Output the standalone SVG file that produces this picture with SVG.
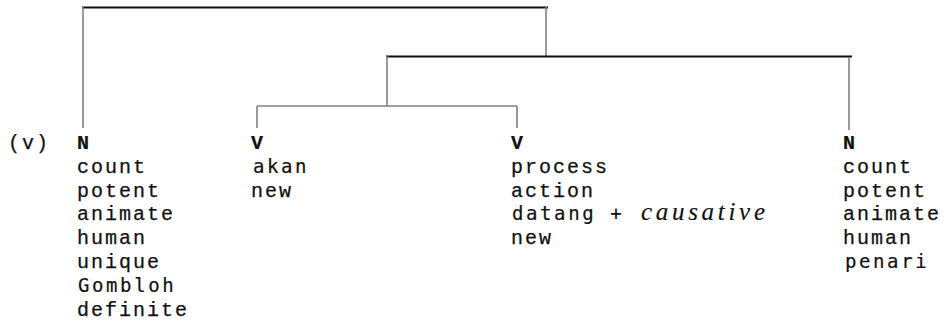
<svg xmlns="http://www.w3.org/2000/svg" width="949" height="322" viewBox="0 0 949 322">
<style>
.t{font-family:"Liberation Mono","Courier New",monospace;font-size:20px;letter-spacing:2px;fill:#111;stroke:#111;stroke-width:0.25}
.b{font-weight:bold;stroke-width:0.2}
.s{font-family:"DejaVu Sans Mono","Liberation Mono",monospace;font-size:19px;letter-spacing:2.6px;fill:#111;stroke:#111;stroke-width:0.2}
.i{font-family:"Liberation Serif","Times New Roman",serif;font-style:italic;font-size:25px;fill:#111;stroke:#111;stroke-width:0.15}
.thick{stroke:#111;stroke-width:2.2;fill:none}
.thin{stroke:#808080;stroke-width:1.6;fill:none}
</style>
<rect width="949" height="322" fill="#fff"/>
<g id="connectors">
<line class="thick" x1="82" y1="7.5" x2="548" y2="7.5"/>
<line class="thin" x1="83" y1="7" x2="83" y2="128"/>
<line class="thin" x1="546" y1="7" x2="546" y2="57"/>
<line class="thick" x1="386" y1="56.5" x2="852" y2="56.5"/>
<line class="thin" x1="387" y1="56" x2="387" y2="106"/>
<line class="thin" x1="849" y1="57" x2="849" y2="130"/>
<line class="thin" x1="257" y1="106" x2="517" y2="106"/>
<line class="thin" x1="257" y1="106" x2="257" y2="128"/>
<line class="thin" x1="517" y1="106" x2="517" y2="128"/>
</g>
<g id="label-v"><text class="t" x="8" y="149">(v)</text></g>
<g id="node-n1">
<text class="t b" x="77" y="149">N</text>
<text class="t" x="77" y="173">count</text>
<text class="t" x="77" y="197">potent</text>
<text class="t" x="77" y="220">animate</text>
<text class="t" x="77" y="244">human</text>
<text class="t" x="77" y="268">unique</text>
<text class="s" x="78" y="292">Gombloh</text>
<text class="t" x="77" y="316">definite</text>
</g>
<g id="node-v1">
<text class="t b" x="251" y="149">V</text>
<text class="s" x="253" y="173">akan</text>
<text class="t" x="251" y="197">new</text>
</g>
<g id="node-v2">
<text class="t b" x="511" y="149">V</text>
<text class="t" x="511" y="173">process</text>
<text class="t" x="511" y="197">action</text>
<text class="s" x="512" y="220">datang +</text>
<text class="i" x="641" y="220" textLength="124" lengthAdjust="spacing">causative</text>
<text class="t" x="511" y="244">new</text>
</g>
<g id="node-n2">
<text class="t b" x="843" y="149">N</text>
<text class="t" x="843" y="173">count</text>
<text class="t" x="843" y="197">potent</text>
<text class="t" x="843" y="220">animate</text>
<text class="t" x="843" y="244">human</text>
<text class="s" x="845" y="268">penari</text>
</g>
</svg>
